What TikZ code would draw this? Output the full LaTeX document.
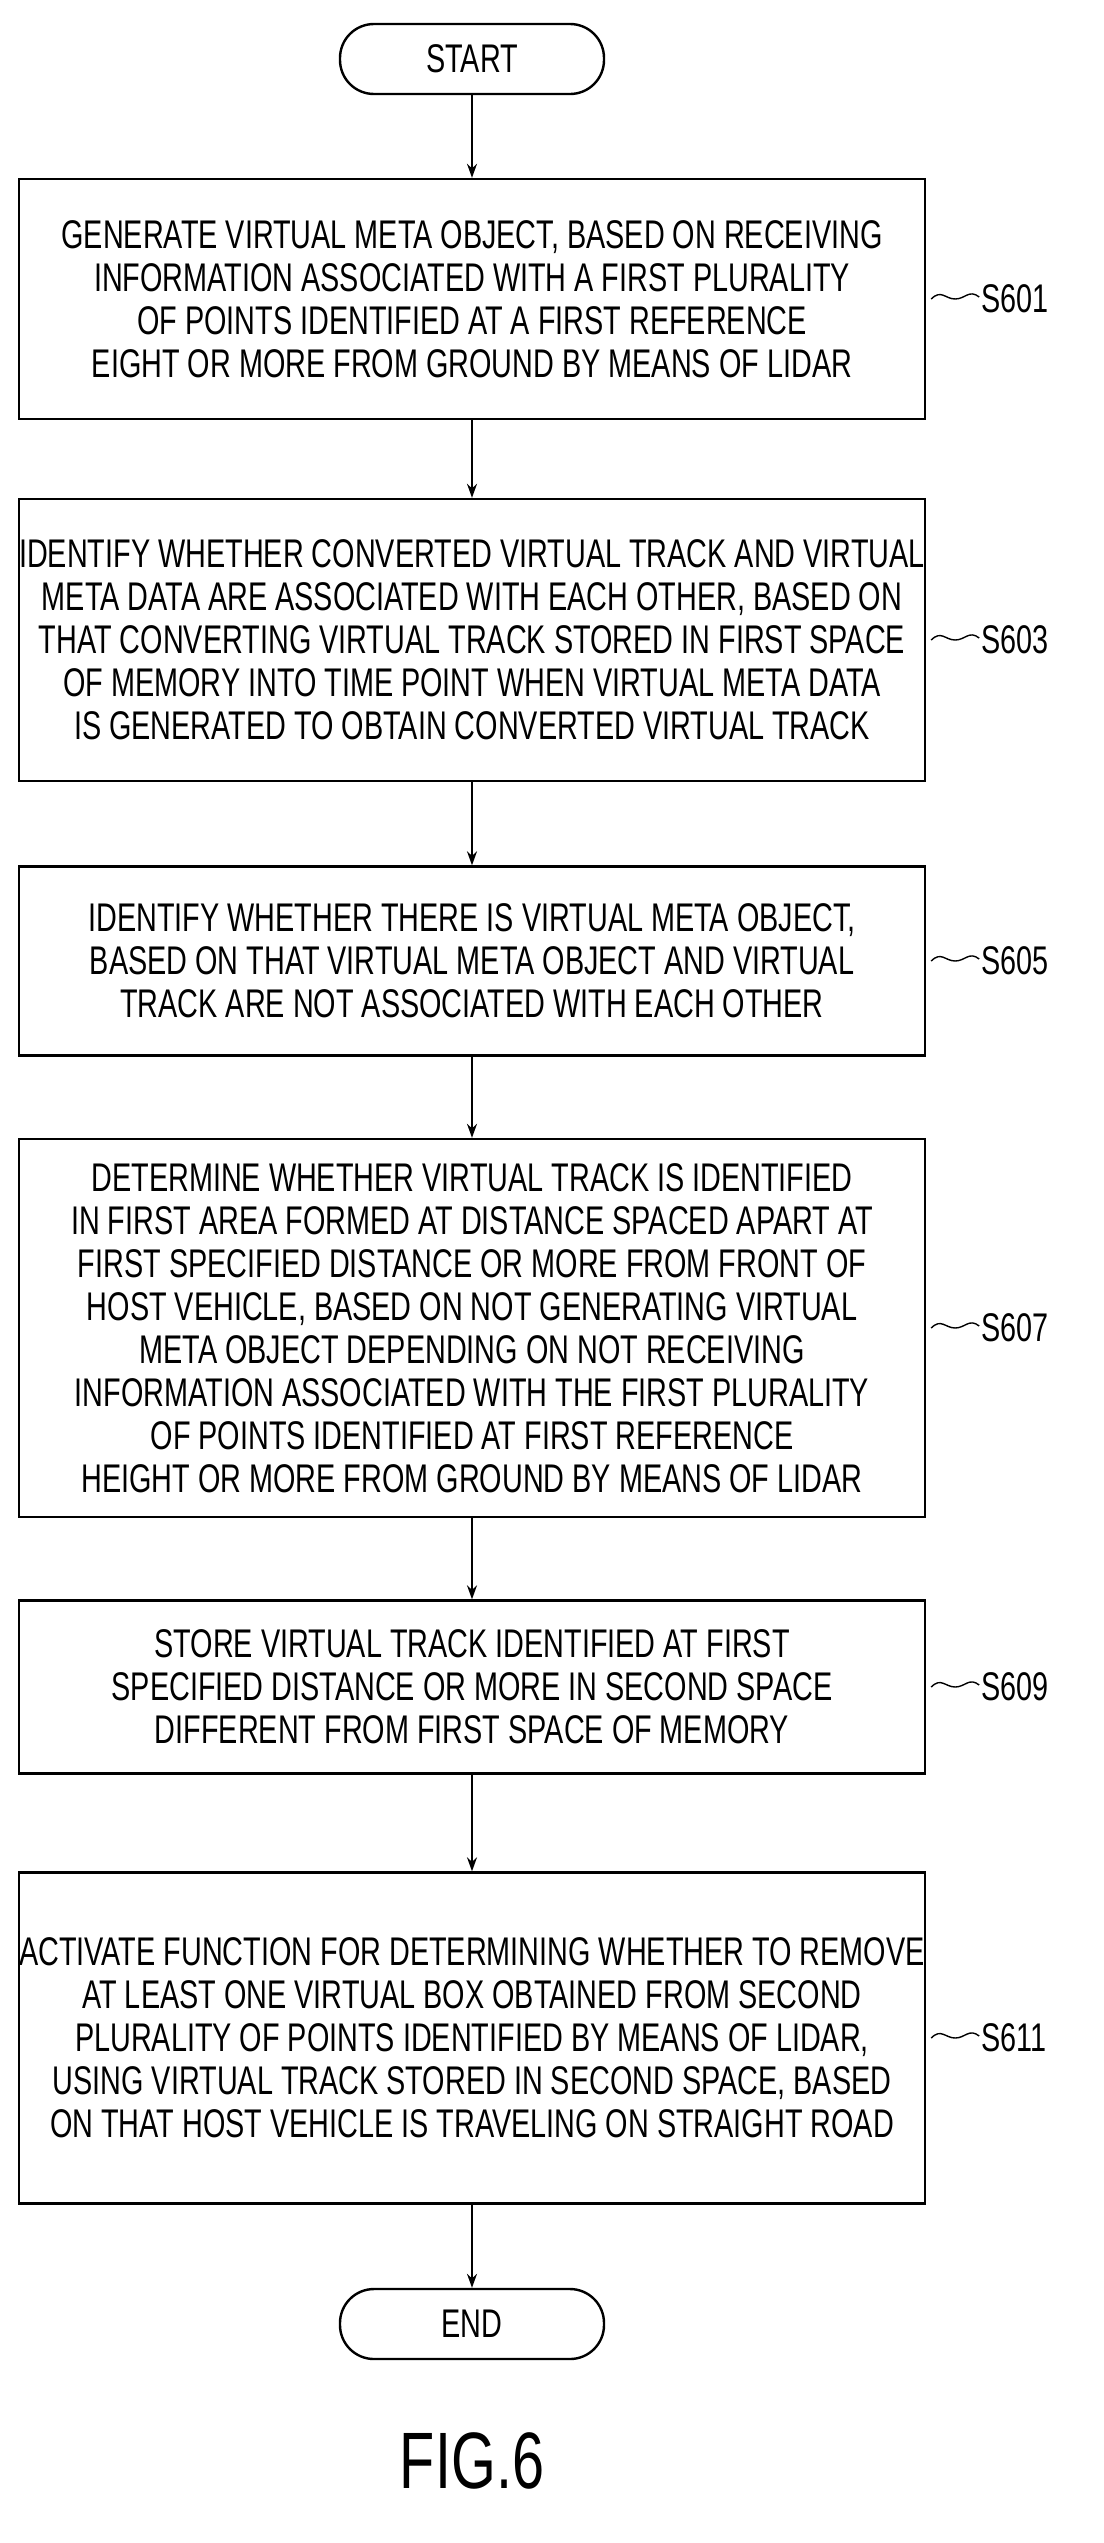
\documentclass[tikz,border=0pt]{standalone}
\usepackage{fontspec}
\setmainfont[FakeStretch=0.72]{Liberation Sans}
\usetikzlibrary{arrows.meta}
\tikzset{
  stepbox/.style={draw,line width=2.4pt,minimum width=906pt,align=center,font=\fontsize{40}{43}\selectfont,inner sep=0pt},
  termbox/.style={draw,line width=2.4pt,rounded corners=34pt,minimum width=264pt,minimum height=70pt,font=\fontsize{40}{44}\selectfont},
  flow/.style={line width=1.6pt,-{Stealth[length=14pt,width=10pt]}},
  tag/.style={font=\fontsize{40}{44}\selectfont,anchor=west,inner sep=0pt}
}
\newcommand{\wave}[1]{\draw[line width=1.4pt] (#1.east) ++(5,0) .. controls +(10,-10) and +(-10,0) .. ++(24,0) .. controls +(10,0) and +(-10,-8) .. ++(24,-2);}
\begin{document}
\begin{tikzpicture}[x=1pt,y=1pt,yscale=-1]
\useasboundingbox (0,0) rectangle (1103,2543);

%Shape: Terminal [start]
\node[termbox] (start) at (472,59) {START};
%Shape: Process boxes
\node[stepbox,minimum height=240pt] (s601) at (472,299) {GENERATE VIRTUAL META OBJECT, BASED ON RECEIVING\\INFORMATION ASSOCIATED WITH A FIRST PLURALITY\\OF POINTS IDENTIFIED AT A FIRST REFERENCE\\EIGHT OR MORE FROM GROUND BY MEANS OF LIDAR};
\node[stepbox,minimum height=282pt] (s603) at (472,640) {IDENTIFY WHETHER CONVERTED VIRTUAL TRACK AND VIRTUAL\\META DATA ARE ASSOCIATED WITH EACH OTHER, BASED ON\\THAT CONVERTING VIRTUAL TRACK STORED IN FIRST SPACE\\OF MEMORY INTO TIME POINT WHEN VIRTUAL META DATA\\IS GENERATED TO OBTAIN CONVERTED VIRTUAL TRACK};
\node[stepbox,minimum height=189pt] (s605) at (472,961) {IDENTIFY WHETHER THERE IS VIRTUAL META OBJECT,\\BASED ON THAT VIRTUAL META OBJECT AND VIRTUAL\\TRACK ARE NOT ASSOCIATED WITH EACH OTHER};
\node[stepbox,minimum height=378pt] (s607) at (472,1328) {DETERMINE WHETHER VIRTUAL TRACK IS IDENTIFIED\\IN FIRST AREA FORMED AT DISTANCE SPACED APART AT\\FIRST SPECIFIED DISTANCE OR MORE FROM FRONT OF\\HOST VEHICLE, BASED ON NOT GENERATING VIRTUAL\\META OBJECT DEPENDING ON NOT RECEIVING\\INFORMATION ASSOCIATED WITH THE FIRST PLURALITY\\OF POINTS IDENTIFIED AT FIRST REFERENCE\\HEIGHT OR MORE FROM GROUND BY MEANS OF LIDAR};
\node[stepbox,minimum height=173pt] (s609) at (472,1687) {STORE VIRTUAL TRACK IDENTIFIED AT FIRST\\SPECIFIED DISTANCE OR MORE IN SECOND SPACE\\DIFFERENT FROM FIRST SPACE OF MEMORY};
\node[stepbox,minimum height=331pt] (s611) at (472,2038) {ACTIVATE FUNCTION FOR DETERMINING WHETHER TO REMOVE\\AT LEAST ONE VIRTUAL BOX OBTAINED FROM SECOND\\PLURALITY OF POINTS IDENTIFIED BY MEANS OF LIDAR,\\USING VIRTUAL TRACK STORED IN SECOND SPACE, BASED\\ON THAT HOST VEHICLE IS TRAVELING ON STRAIGHT ROAD};
%Shape: Terminal [end]
\node[termbox] (end) at (472,2324) {END};

%Straight Lines
\foreach \a/\b in {start/s601,s601/s603,s603/s605,s605/s607,s607/s609,s609/s611,s611/end}
  \draw[flow] (\a) -- (\b);

% Step labels
\foreach \s/\n in {s601/601,s603/603,s605/605,s607/607,s609/609,s611/611}{
  \wave{\s}
  \node[tag] (t\s) at ([xshift=55pt]\s.east) {S\n};
}

% Text Node
\node[font=\fontsize{80}{84}\selectfont] (fig) at (472,2461) {FIG.6};
\end{tikzpicture}
\end{document}
